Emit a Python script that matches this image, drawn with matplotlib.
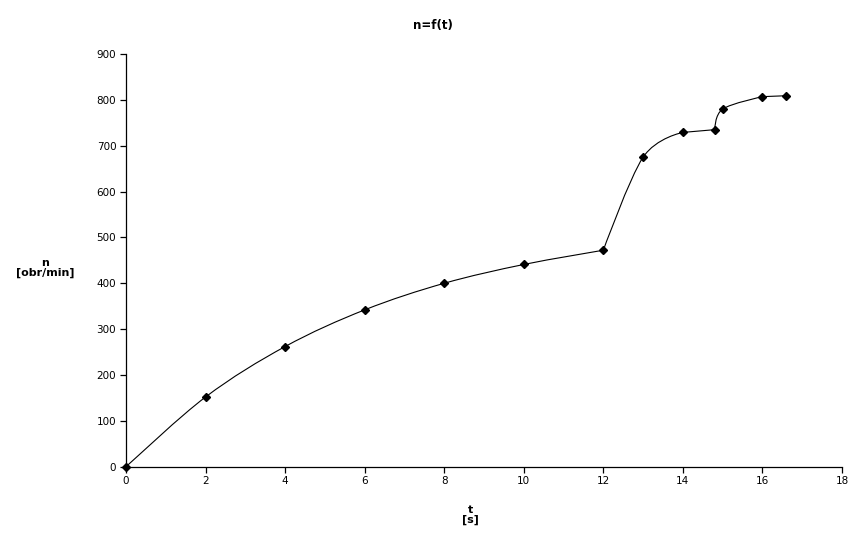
import numpy as np
import matplotlib
matplotlib.use("Agg")
import matplotlib.pyplot as plt
from matplotlib.path import Path
from matplotlib.patches import PathPatch

# Data
t_values = [0, 2, 4, 6, 8, 10, 12, 13, 14, 14.8, 15, 16, 16.6]
n_values = [0, 152, 262, 342, 400, 441, 472, 675, 729, 735, 780, 807, 809]
x_ticks = [0, 2, 4, 6, 8, 10, 12, 14, 16, 18]
y_ticks = [0, 100, 200, 300, 400, 500, 600, 700, 800, 900]
title = "n=f(t)"
xlabel = "t\n[s]"
ylabel = "n\n[obr/min]"

plt.rcParams['font.family'] = ['DejaVu Sans']

fig = plt.figure(figsize=(8.66, 5.48), dpi=100)
ax = fig.add_axes([126/866, 1-466.7/548, (842-126)/866, (466.7-54)/548])


def smooth_path(xs, ys):
    """Catmull-Rom Bezier smoothing; handles dropped where they would overshoot."""
    P = np.column_stack([xs, ys]).astype(float)
    n = len(P)
    T = np.zeros_like(P)
    for i in range(n):
        a = P[max(i - 1, 0)]
        c = P[min(i + 1, n - 1)]
        T[i] = (c - a) / 6
    for i in range(1, n - 1):
        lo1, hi1 = sorted([P[i - 1, 1], P[i, 1]])
        lo2, hi2 = sorted([P[i, 1], P[i + 1, 1]])
        yin = P[i, 1] - T[i, 1]
        yout = P[i, 1] + T[i, 1]
        if not (lo1 <= yin <= hi1) or not (lo2 <= yout <= hi2):
            T[i] = 0
    verts = [P[0]]
    codes = [Path.MOVETO]
    for i in range(n - 1):
        verts += [P[i] + T[i], P[i + 1] - T[i + 1], P[i + 1]]
        codes += [Path.CURVE4] * 3
    return Path(verts, codes)


ax.add_patch(PathPatch(smooth_path(t_values, n_values), facecolor='none',
                       edgecolor='black', linewidth=0.8, zorder=2))
ax.plot(t_values, n_values, linestyle='none', marker='D', markersize=4.2,
        color='black', zorder=3, clip_on=False)

ax.set_xlim(0, 18)
ax.set_ylim(0, 900)
ax.set_xticks(x_ticks)
ax.set_yticks(y_ticks)
ax.set_xticklabels([str(v) for v in x_ticks])
ax.set_yticklabels([str(v) for v in y_ticks])
for s in ['top', 'right']:
    ax.spines[s].set_visible(False)
for s in ['left', 'bottom']:
    ax.spines[s].set_linewidth(0.9)
ax.tick_params(direction='out', length=4, width=0.9, labelsize=7.5, pad=3)

fig.text(433/866, 1-26/548, title, ha='center', va='center', fontsize=8.5,
         fontweight='bold')
fig.text(45/866, 1-268/548, ylabel, ha='center', va='center', fontsize=8,
         fontweight='bold', linespacing=1.0)
fig.text(470/866, 1-515/548, xlabel, ha='center', va='center', fontsize=8,
         fontweight='bold', linespacing=1.0)

fig.savefig("out.png", dpi=100)
